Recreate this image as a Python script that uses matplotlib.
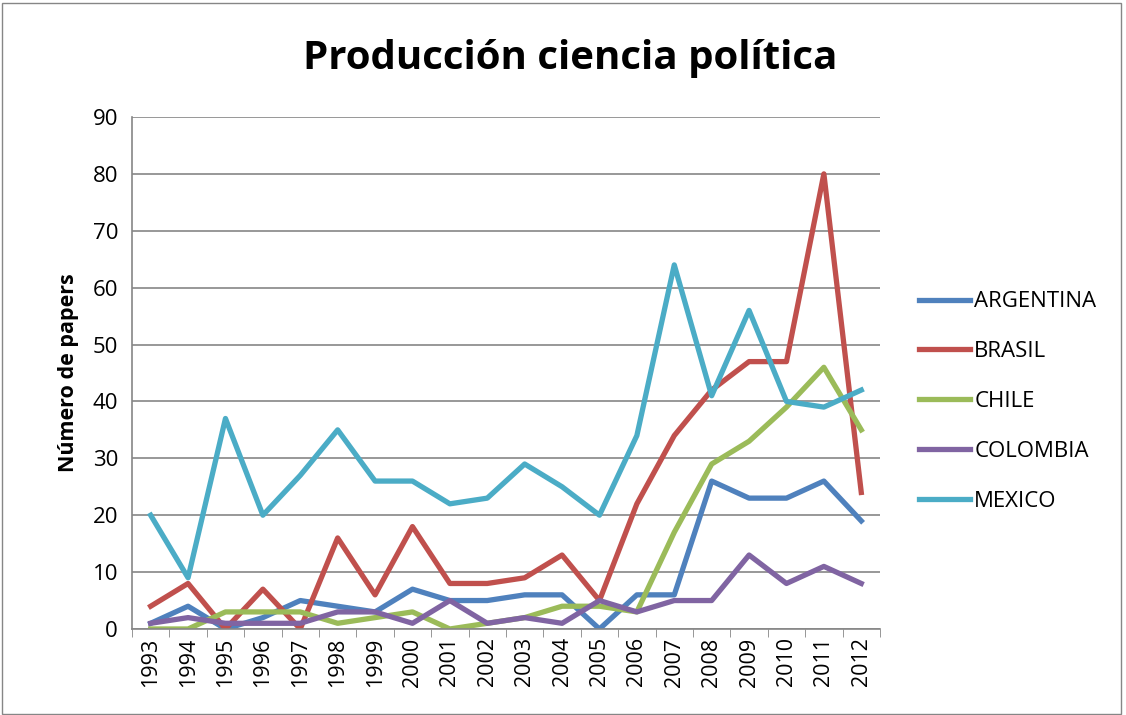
import matplotlib.pyplot as plt
from matplotlib.patches import Rectangle

years = [str(y) for y in range(1993, 2013)]
argentina = [1, 4, 0, 2, 5, 4, 3, 7, 5, 5, 6, 6, 0, 6, 6, 26, 23, 23, 26, 19]
brasil = [4, 8, 0, 7, 0, 16, 6, 18, 8, 8, 9, 13, 5, 22, 34, 42, 47, 47, 80, 24]
chile = [0, 0, 3, 3, 3, 1, 2, 3, 0, 1, 2, 4, 4, 3, 17, 29, 33, 39, 46, 35]
colombia = [1, 2, 1, 1, 1, 3, 3, 1, 5, 1, 2, 1, 5, 3, 5, 5, 13, 8, 11, 8]
mexico = [20, 9, 37, 20, 27, 35, 26, 26, 22, 23, 29, 25, 20, 34, 64, 41, 56, 40, 39, 42]

series = [
    ("ARGENTINA", argentina, "#4F81BD"),
    ("BRASIL", brasil, "#C0504D"),
    ("CHILE", chile, "#9BBB59"),
    ("COLOMBIA", colombia, "#8064A2"),
    ("MEXICO", mexico, "#4BACC6"),
]

plt.rcParams['font.family'] = ['Open Sans', 'DejaVu Sans']

fig = plt.figure(figsize=(11.26, 7.15), dpi=100)
ax = fig.add_axes([0.1172, 0.1203, 0.6643, 0.7161])

x = list(range(len(years)))
for name, vals, col in series:
    ax.plot(x, vals, color=col, lw=3.8, label=name, solid_joinstyle='round')

ax.set_xlim(-0.5, len(years) - 0.5)
ax.set_ylim(0, 90)
ax.set_yticks(range(0, 91, 10))
ax.set_xticks(x)
ax.set_xticklabels(years, rotation=90, fontsize=15.5)
ax.tick_params(axis='y', labelsize=16, length=0, pad=10)
ax.tick_params(axis='x', length=0, pad=6)
ax.set_xticks([i - 0.5 for i in range(len(years) + 1)], minor=True)
ax.tick_params(axis='x', which='minor', length=6, color='#868686')

ax.grid(axis='y', color='#868686', lw=1.2)
ax.set_axisbelow(True)
for s in ['top', 'right']:
    ax.spines[s].set_visible(False)
for s in ['left', 'bottom']:
    ax.spines[s].set_color('#868686')
    ax.spines[s].set_linewidth(1.2)

ax.set_ylabel("Número de papers", fontsize=15.5, fontweight='bold', labelpad=10)
fig.text(0.506, 0.918, "Producción ciencia política", ha='center', va='center',
         fontsize=29, fontweight='bold')

ax.legend(loc='center left', bbox_to_anchor=(1.025, 0.444), frameon=False,
          fontsize=16, handlelength=2.3, handletextpad=0.2, labelspacing=1.3)

fig.patches.append(Rectangle((0.002, 0.002), 0.994, 0.994, transform=fig.transFigure,
                             fill=False, edgecolor='#868686', lw=1))

fig.savefig('out.png', dpi=100)
